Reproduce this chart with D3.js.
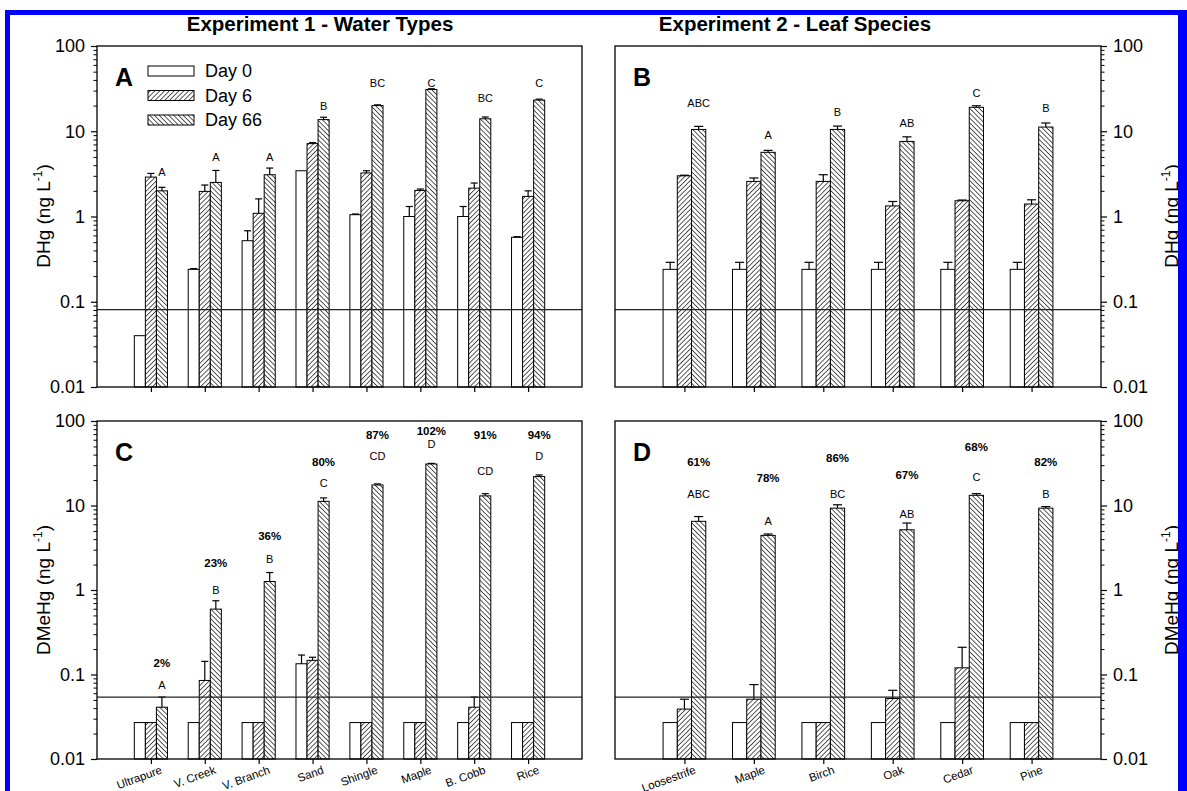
<!DOCTYPE html>
<html>
<head>
<meta charset="utf-8">
<script src="https://cdn.jsdelivr.net/npm/d3@7/dist/d3.min.js"></script>
<style>
  html, body { margin: 0; padding: 0; background: #fff; }
  svg { display: block; font-family: "Liberation Sans", Arial, sans-serif; }
</style>
</head>
<body>
<svg id="chart" width="1187" height="791"></svg>
<script>
// ---------------- DATA ----------------
const waterCats = ["Ultrapure", "V. Creek", "V. Branch", "Sand", "Shingle", "Maple", "B. Cobb", "Rice"];
const leafCats = ["Loosestrife", "Maple", "Birch", "Oak", "Cedar", "Pine"];
const seriesNames = ["Day 0", "Day 6", "Day 66"];
const yTickValues = [0.01, 0.1, 1, 10, 100];
const yTickLabels = ["0.01", "0.1", "1", "10", "100"];

// Panel A: DHg, water types (value and upper error-bar end)
const dhgWaterDay0 = [0.04, 0.24, 0.52, 3.44, 1.05, 1.0, 1.0, 0.57];
const dhgWaterDay0Hi = [0.04, 0.245, 0.68, 3.44, 1.07, 1.31, 1.31, 0.58];
const dhgWaterDay6 = [2.9, 1.97, 1.09, 7.16, 3.24, 2.02, 2.15, 1.72];
const dhgWaterDay6Hi = [3.2, 2.34, 1.61, 7.35, 3.44, 2.1, 2.47, 2.0];
const dhgWaterDay66 = [2.0, 2.51, 3.09, 13.7, 20.0, 30.9, 14.0, 23.2];
const dhgWaterDay66Hi = [2.2, 3.47, 3.7, 14.6, 20.4, 31.5, 14.7, 23.8];
const dhgWaterLetters = ["A", "A", "A", "B", "BC", "C", "BC", "C"];
const dhgWaterLetterAt = [3.27, 5.0, 5.0, 19.8, 37, 37, 24.4, 36.5];
const dhgDetection = 0.081;

// Panel B: DHg, leaf species
const dhgLeafDay0 = [0.24, 0.24, 0.24, 0.24, 0.24, 0.24];
const dhgLeafDay0Hi = [0.29, 0.29, 0.29, 0.29, 0.29, 0.29];
const dhgLeafDay6 = [3.0, 2.58, 2.58, 1.33, 1.53, 1.4];
const dhgLeafDay6Hi = [3.05, 2.83, 3.09, 1.5, 1.56, 1.57];
const dhgLeafDay66 = [10.5, 5.66, 10.5, 7.6, 19.1, 11.2];
const dhgLeafDay66Hi = [11.4, 5.97, 11.5, 8.6, 19.9, 12.5];
const dhgLeafLetters = ["ABC", "A", "B", "AB", "C", "B"];
const dhgLeafLetterAt = [21.5, 8.9, 16.7, 12.5, 28, 18.8];

// Panel C: DMeHg, water types
const mehgWaterDay0 = [0.027, 0.027, 0.027, 0.134, 0.027, 0.027, 0.027, 0.027];
const mehgWaterDay0Hi = [0.027, 0.027, 0.027, 0.17, 0.027, 0.027, 0.027, 0.027];
const mehgWaterDay6 = [0.027, 0.085, 0.027, 0.147, 0.027, 0.027, 0.041, 0.027];
const mehgWaterDay6Hi = [0.027, 0.143, 0.027, 0.16, 0.027, 0.027, 0.054, 0.027];
const mehgWaterDay66 = [0.041, 0.594, 1.26, 11.2, 17.5, 31.0, 13.0, 22.0];
const mehgWaterDay66Hi = [0.054, 0.746, 1.61, 12.3, 18.0, 31.5, 13.8, 23.0];
const mehgWaterLetters = ["A", "B", "B", "C", "CD", "D", "CD", "D"];
const mehgWaterLetterAt = [0.074, 1.0, 2.29, 18.2, 38, 52.5, 25.6, 38];
const mehgWaterPct = ["2%", "23%", "36%", "80%", "87%", "102%", "91%", "94%"];
const mehgWaterPctAt = [0.138, 2.09, 4.37, 33, 69, 76, 69, 69];
const mehgDetection = 0.054;

// Panel D: DMeHg, leaf species
const mehgLeafDay0 = [0.027, 0.027, 0.027, 0.027, 0.027, 0.027];
const mehgLeafDay0Hi = [0.027, 0.027, 0.027, 0.027, 0.027, 0.027];
const mehgLeafDay6 = [0.039, 0.051, 0.027, 0.052, 0.12, 0.027];
const mehgLeafDay6Hi = [0.051, 0.076, 0.027, 0.065, 0.21, 0.027];
const mehgLeafDay66 = [6.5, 4.43, 9.3, 5.16, 13.2, 9.3];
const mehgLeafDay66Hi = [7.4, 4.6, 10.2, 6.2, 13.8, 9.7];
const mehgLeafLetters = ["ABC", "A", "BC", "AB", "C", "B"];
const mehgLeafLetterAt = [13.5, 6.5, 13.7, 7.9, 21.6, 13.5];
const mehgLeafPct = ["61%", "78%", "86%", "67%", "68%", "82%"];
const mehgLeafPctAt = [32.9, 21.2, 36.6, 23.2, 49, 32.9];

const titles = ["Experiment 1 - Water Types", "Experiment 2 - Leaf Species"];

// ---------------- DRAWING ----------------
const svg = d3.select("#chart");
svg.append("rect").attr("width", 1187).attr("height", 791).attr("fill", "#fff");

const defs = svg.append("defs");
function hatch(id, forward) {
  const p = defs.append("pattern").attr("id", id).attr("patternUnits", "userSpaceOnUse")
    .attr("width", 3.4).attr("height", 3.4)
    .attr("patternTransform", `rotate(${forward ? 45 : -45})`);
  p.append("rect").attr("width", 3.4).attr("height", 3.4).attr("fill", "#fff");
  p.append("line").attr("x1", 0).attr("y1", 0).attr("x2", 0).attr("y2", 3.4)
    .attr("stroke", "#000").attr("stroke-width", 1.3);
}
hatch("hFwd", true);
hatch("hBack", false);
const fills = ["#fff", "url(#hFwd)", "url(#hBack)"];

const font = "'Liberation Sans', Arial, sans-serif";

function supLabel(g, x, y, main) {
  const t = g.append("text")
    .attr("transform", `translate(${x},${y}) rotate(-90)`)
    .attr("text-anchor", "middle")
    .attr("font-size", 19).attr("fill", "#000");
  t.append("tspan").text(main + " (ng L");
  t.append("tspan").attr("font-size", 12).attr("dy", -8).text("-1");
  t.append("tspan").attr("dy", 8).text(")");
}

function panel(cfg) {
  const { x0, x1, y0, y1, side, cats, series, letters, letterAt, pct, pctAt, detection, tag, showLabels, legend } = cfg;
  const g = svg.append("g");
  const x = d3.scalePoint().domain(cats).range([x0, x1]).padding(1);
  const y = d3.scaleLog().domain([0.01, 100]).range([y1, y0]);
  const bw = x.step() * 0.205;
  const off = [-bw, 0, bw];

  series.forEach((s, si) => {
    g.append("g").selectAll("rect").data(cats).join("rect")
      .attr("x", d => x(d) + off[si] - bw / 2)
      .attr("y", (d, i) => y(s.v[i]))
      .attr("width", bw)
      .attr("height", (d, i) => y1 - y(s.v[i]))
      .attr("fill", fills[si])
      .attr("stroke", "#000").attr("stroke-width", 1);
    const eg = g.append("g").attr("stroke", "#000").attr("stroke-width", 1.2);
    cats.forEach((c, i) => {
      if (s.hi[i] > s.v[i] * 1.005) {
        const cx = x(c) + off[si];
        eg.append("line").attr("x1", cx).attr("x2", cx).attr("y1", y(s.v[i])).attr("y2", y(s.hi[i]));
        eg.append("line").attr("x1", cx - bw * 0.32).attr("x2", cx + bw * 0.32)
          .attr("y1", y(s.hi[i])).attr("y2", y(s.hi[i]));
      }
    });
  });

  g.append("line").attr("x1", x0).attr("x2", x1).attr("y1", y(detection)).attr("y2", y(detection))
    .attr("stroke", "#222").attr("stroke-width", 1.3);

  g.append("rect").attr("x", x0).attr("y", y0).attr("width", x1 - x0).attr("height", y1 - y0)
    .attr("fill", "none").attr("stroke", "#000").attr("stroke-width", 1.3);

  const minor = y.ticks().filter(t => !yTickValues.some(v => Math.abs(v - t) / v < 1e-6));
  const axisFn = side === "left" ? d3.axisLeft : d3.axisRight;
  const ax = g.append("g").attr("transform", `translate(${side === "left" ? x0 : x1},0)`)
    .call(axisFn(y).tickValues(yTickValues).tickSize(6).tickPadding(6)
      .tickFormat((d, i) => yTickLabels[i]));
  ax.select(".domain").remove();
  ax.selectAll("line").attr("stroke-width", 1.2);
  ax.selectAll("text").attr("font-size", 18).attr("font-family", font).attr("fill", "#000");
  const mx = g.append("g").attr("transform", `translate(${side === "left" ? x0 : x1},0)`)
    .call(axisFn(y).tickValues(minor).tickSize(3.5).tickFormat(""));
  mx.select(".domain").remove();

  const xa = g.append("g").attr("transform", `translate(0,${y1})`)
    .call(d3.axisBottom(x).tickSize(5).tickFormat(""));
  xa.select(".domain").remove();
  xa.selectAll("line").attr("stroke-width", 1.2);

  if (showLabels) {
    g.append("g").selectAll("text").data(cats).join("text")
      .attr("transform", d => `translate(${x(d) + 12},${y1 + 14}) rotate(-20)`)
      .attr("text-anchor", "end").attr("font-size", 11.5).attr("fill", "#000")
      .text(d => d);
  }

  g.append("g").selectAll("text").data(cats).join("text")
    .attr("x", d => x(d) + off[2]).attr("y", (d, i) => y(letterAt[i]))
    .attr("dy", "0.35em").attr("text-anchor", "middle").attr("font-size", 11).attr("fill", "#000")
    .text((d, i) => letters[i]);
  if (pct) {
    g.append("g").selectAll("text").data(cats).join("text")
      .attr("x", d => x(d) + off[2]).attr("y", (d, i) => y(pctAt[i]))
      .attr("dy", "0.35em").attr("text-anchor", "middle")
      .attr("font-size", 11.5).attr("font-weight", "bold")
      .attr("font-family", "'Liberation Sans Narrow', 'Liberation Sans', Arial, sans-serif")
      .attr("fill", "#000")
      .text((d, i) => pct[i]);
  }

  g.append("text").attr("x", x0 + 18).attr("y", y0 + 40).attr("font-size", 25)
    .attr("font-weight", "bold").attr("fill", "#000").text(tag);

  if (legend) {
    const lg = g.append("g");
    seriesNames.forEach((n, i) => {
      const ly = y0 + 20 + i * 24.5;
      lg.append("rect").attr("x", x0 + 51).attr("y", ly).attr("width", 46).attr("height", 10)
        .attr("fill", fills[i]).attr("stroke", "#000").attr("stroke-width", 1);
      lg.append("text").attr("x", x0 + 108).attr("y", ly + 11).attr("font-size", 18)
        .attr("fill", "#000").text(n);
    });
  }
  return g;
}

const mk = (a, b, c, d, e, f) => [{ v: a, hi: b }, { v: c, hi: d }, { v: e, hi: f }];

panel({ x0: 97, x1: 582, y0: 46, y1: 387, side: "left", cats: waterCats,
  series: mk(dhgWaterDay0, dhgWaterDay0Hi, dhgWaterDay6, dhgWaterDay6Hi, dhgWaterDay66, dhgWaterDay66Hi),
  letters: dhgWaterLetters, letterAt: dhgWaterLetterAt, detection: dhgDetection, tag: "A", legend: true });
panel({ x0: 615, x1: 1101, y0: 46, y1: 387, side: "right", cats: leafCats,
  series: mk(dhgLeafDay0, dhgLeafDay0Hi, dhgLeafDay6, dhgLeafDay6Hi, dhgLeafDay66, dhgLeafDay66Hi),
  letters: dhgLeafLetters, letterAt: dhgLeafLetterAt, detection: dhgDetection, tag: "B" });
panel({ x0: 97, x1: 582, y0: 421, y1: 759, side: "left", cats: waterCats,
  series: mk(mehgWaterDay0, mehgWaterDay0Hi, mehgWaterDay6, mehgWaterDay6Hi, mehgWaterDay66, mehgWaterDay66Hi),
  letters: mehgWaterLetters, letterAt: mehgWaterLetterAt, pct: mehgWaterPct, pctAt: mehgWaterPctAt,
  detection: mehgDetection, tag: "C", showLabels: true });
panel({ x0: 615, x1: 1101, y0: 421, y1: 759, side: "right", cats: leafCats,
  series: mk(mehgLeafDay0, mehgLeafDay0Hi, mehgLeafDay6, mehgLeafDay6Hi, mehgLeafDay66, mehgLeafDay66Hi),
  letters: mehgLeafLetters, letterAt: mehgLeafLetterAt, pct: mehgLeafPct, pctAt: mehgLeafPctAt,
  detection: mehgDetection, tag: "D", showLabels: true });

svg.append("text").attr("x", 320).attr("y", 31).attr("text-anchor", "middle")
  .attr("font-size", 20.5).attr("font-weight", "bold").text(titles[0]);
svg.append("text").attr("x", 795).attr("y", 31).attr("text-anchor", "middle")
  .attr("font-size", 20.5).attr("font-weight", "bold").text(titles[1]);

supLabel(svg, 50, 216, "DHg");
supLabel(svg, 50, 590, "DMeHg");
supLabel(svg, 1178, 216, "DHg");
supLabel(svg, 1178, 590, "DMeHg");

// blue frame (extends below the picture)
const blue = "#0000ff";
svg.append("rect").attr("x", 5).attr("y", 10).attr("width", 1182).attr("height", 5).attr("fill", blue);
svg.append("rect").attr("x", 5).attr("y", 10).attr("width", 5).attr("height", 781).attr("fill", blue);
svg.append("rect").attr("x", 1178).attr("y", 10).attr("width", 9).attr("height", 781).attr("fill", blue);
</script>
</body>
</html>
